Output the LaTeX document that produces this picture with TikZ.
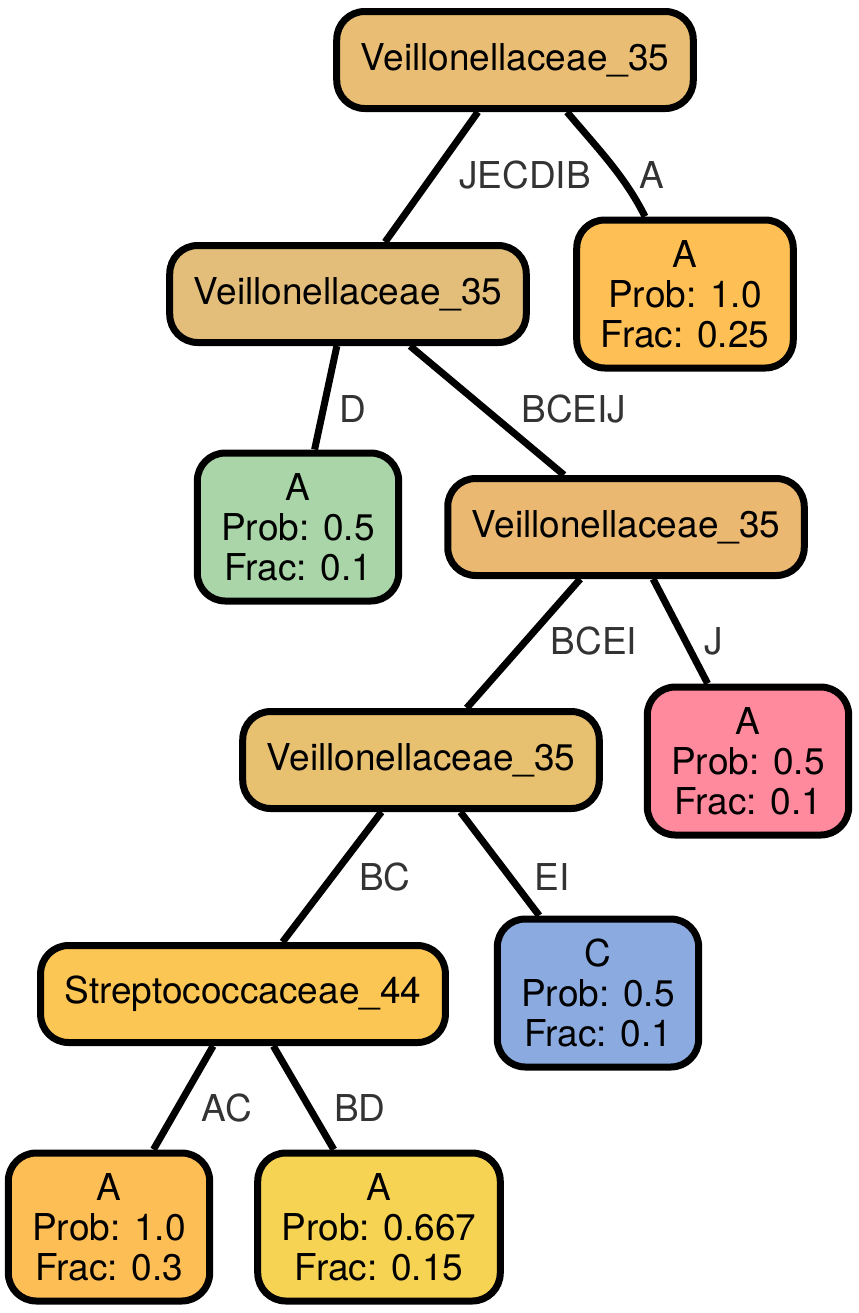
\documentclass[tikz,border=0pt]{standalone}
\usepackage{fontspec}
\setmainfont{TeX Gyre Heros}
\usetikzlibrary{calc}
\definecolor{vrootc}{HTML}{E9BE74}
\definecolor{vtwoc}{HTML}{E3BE7B}
\definecolor{vthreec}{HTML}{EBB872}
\definecolor{vfourc}{HTML}{E7C070}
\definecolor{strepc}{HTML}{FCC654}
\definecolor{leafac}{HTML}{FEBF55}
\definecolor{leafdc}{HTML}{A9D5A8}
\definecolor{leafjc}{HTML}{FF8A9E}
\definecolor{leafcc}{HTML}{8BAAE0}
\definecolor{leafacc}{HTML}{FDBE55}
\definecolor{leafbdc}{HTML}{F6D353}
\definecolor{labelgray}{HTML}{333333}
\newcommand{\splitnode}[5]{%
  % name, x, y, fill, taxon.
  \node[split, fill=#4] (#1) at (#2,#3) {#5};
}
\newcommand{\leafnode}[7]{%
  % name, x, y, fill, class, probability, fraction.
  \node[leaf, fill=#4] (#1) at (#2,#3) {#5\\Prob: #6\\Frac: #7};
}
\begin{document}
\begin{tikzpicture}[x=0.5pt,y=-0.5pt,
  box/.style={draw=black, line width=3.5pt, rounded corners=14pt,
    inner xsep=12pt, inner ysep=0pt, font=\fontsize{18.5}{20}\selectfont},
  split/.style={box, minimum height=48.5pt},
  leaf/.style={box, minimum height=74pt, align=center},
  edge/.style={line width=3.5pt},
  elabel/.style={text=labelgray, inner sep=0pt, font=\fontsize{18.5}{20}\selectfont}]
  \useasboundingbox (0,0) rectangle (858,1313);
  \splitnode{root}{515}{60}{vrootc}{Veillonellaceae\_35}
  \splitnode{vtwo}{348}{294}{vtwoc}{Veillonellaceae\_35}
  \splitnode{vthree}{626}{527}{vthreec}{Veillonellaceae\_35}
  \splitnode{vfour}{421}{760}{vfourc}{Veillonellaceae\_35}
  \splitnode{strep}{243}{994}{strepc}{Streptococcaceae\_44}
  \leafnode{leafA}{685}{294}{leafac}{A}{1.0}{0.25}
  \leafnode{leafD}{298}{527}{leafdc}{A}{0.5}{0.1}
  \leafnode{leafJ}{748}{761}{leafjc}{A}{0.5}{0.1}
  \leafnode{leafC}{598}{993}{leafcc}{C}{0.5}{0.1}
  \leafnode{leafAC}{109}{1227}{leafacc}{A}{1.0}{0.3}
  \leafnode{leafBD}{379}{1227}{leafbdc}{A}{0.667}{0.15}
  % straight edges
  \foreach \a/\b in {root/vtwo,vtwo/leafD,vtwo/vthree,vthree/vfour,vthree/leafJ,
    vfour/strep,vfour/leafC,strep/leafAC,strep/leafBD}{%
    \draw[edge] (\a) -- (\b);
  }
  % curved edge
  \draw[edge] ([xshift=26pt]root.south) .. controls +(16pt,-19pt) and +(-10pt,20pt) .. ([xshift=-20pt]leafA.north);
  % edge labels
  \foreach \t/\x/\y [count=\i] in {JECDIB/525/175,A/652/175,D/353/409,BCEIJ/574/409,
    BCEI/594/641,J/714/641,BC/385/877,EI/552/877,AC/227/1108,BD/360/1108}{%
    \node[elabel] (lab\i) at (\x,\y) {\t};
  }
\end{tikzpicture}
\end{document}
